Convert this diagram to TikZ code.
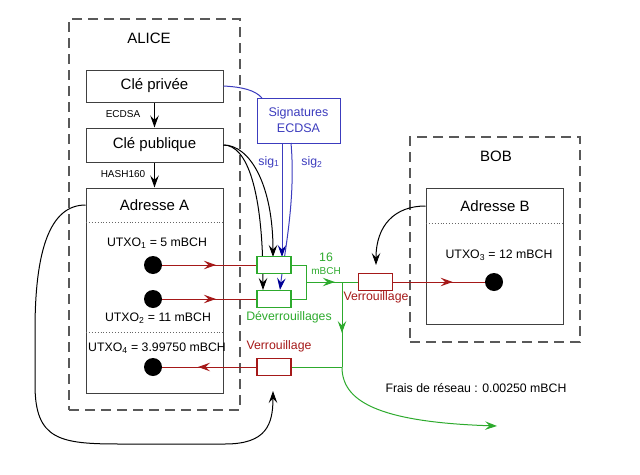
\documentclass[tikz,border=0pt]{standalone}
\usepackage{fontspec}
\setmainfont{Liberation Sans}
\usetikzlibrary{arrows.meta,decorations.markings}
\definecolor{myred}{RGB}{165,25,25}
\definecolor{mygreen}{RGB}{45,170,45}
\definecolor{myblue}{RGB}{60,60,190}
\definecolor{navyblue}{RGB}{0,0,150}
\definecolor{edgegray}{gray}{0.25}
\begin{document}
\begin{tikzpicture}[x=1pt,y=-1pt,
  tipend/.style={-{Stealth[length=12pt,width=8.5pt,inset=4.5pt]}},
  bluetip/.style={-{Stealth[length=12pt,width=8.5pt,inset=4.5pt,color=navyblue]}},
  midarrow/.style={postaction={decorate},decoration={markings,mark=at position #1 with {\arrow{Stealth[length=12pt,width=8.5pt,inset=4.5pt]}}}},
  group/.style={draw=black!65, dash pattern=on 10pt off 6pt, line width=1.2pt, inner sep=0pt},
  box/.style={draw=edgegray, line width=1pt, fill=white, inner sep=0pt, font=\fontsize{15}{18}\selectfont},
  slot/.style={line width=1.1pt, fill=white, minimum width=34pt, minimum height=17pt, inner sep=0pt},
  coin/.style={circle, fill=black, minimum size=18pt, inner sep=0pt},
  lbl/.style={font=\fontsize{12.3}{15}\selectfont, inner sep=0pt},
  big/.style={font=\fontsize{15}{18}\selectfont, inner sep=0pt},
  small/.style={font=\fontsize{10}{12}\selectfont, inner sep=0pt},
  line/.style={line width=1pt}
]
\useasboundingbox (0,0) rectangle (640,474);

% groups
\node[group, minimum width=171pt, minimum height=391pt] (alice) at (154.5,214.5) {};
\node[big] (alicelbl) at (149,38) {ALICE};
\node[group, minimum width=170pt, minimum height=205pt] (bob) at (495,239.5) {};
\node[big] (boblbl) at (496,156) {BOB};

% Alice boxes
\node[box, minimum width=137pt, minimum height=32pt] (priv) at (154.5,86) {Clé privée};
\node[box, minimum width=137pt, minimum height=34pt] (pub) at (154.5,145) {Clé publique};
\node[box, minimum width=137pt, minimum height=205pt] (adrA) at (154.5,290.5) {};
\node[big] (adrAlbl) at (154.5,205) {Adresse A};
\draw[dotted, line width=0.9pt, black!60] (86,222) -- (223,222);
\draw[dotted, line width=0.9pt, black!60] (86,332) -- (223,332);
\node[small] (ecdsa) at (123,114) {ECDSA};
\node[small] (hash) at (123,174) {HASH160};
\draw[line, tipend] (priv) -- (pub);
\draw[line, tipend] (pub) -- (adrA);

\node[lbl] (u1) at (157,243) {UTXO\textsubscript{1} = 5 mBCH};
\node[lbl] (u2) at (158,318) {UTXO\textsubscript{2} = 11 mBCH};
\node[lbl] (u4) at (157,348) {UTXO\textsubscript{4} = 3.99750 mBCH};
\node[coin] (d1) at (153,265) {};
\node[coin] (d2) at (153,299) {};
\node[coin] (d4) at (153,367) {};

% Bob boxes
\node[box, minimum width=137pt, minimum height=136pt] (adrB) at (494.5,256) {};
\node[big] (adrBlbl) at (495,206) {Adresse B};
\draw[dotted, line width=0.9pt, black!60] (426,223) -- (563,223);
\node[lbl] (u3) at (499,255) {UTXO\textsubscript{3} = 12 mBCH};
\node[coin] (d3) at (494,282) {};

% signatures
\node[draw=myblue, line width=1pt, fill=white, minimum width=83pt, minimum height=45pt, align=center, text=myblue, font=\fontsize{12.5}{16}\selectfont, inner sep=0pt] (sig) at (298.5,120.5) {Signatures\\ECDSA};
\draw[myblue, line width=1pt] (priv.east) .. controls (242,87) and (255,90) .. (262,98);
\node[lbl, text=myblue] (s1lbl) at (269,162) {sig\textsubscript{1}};
\node[lbl, text=myblue] (s2lbl) at (312,162) {sig\textsubscript{2}};

% coordinates for connectors
\coordinate (t1) at (273,257);
\coordinate (t2) at (263,290);
\coordinate (b1s) at (282,143);
\coordinate (b1e) at (282,257);
\coordinate (b2s) at (291,143);
\coordinate (b2e) at (280,290);

% black curves from public key
\draw[line, tipend] (pub.east) .. controls (250,145) and (273,185) .. (t1);
\draw[line, tipend] (pub.east) .. controls (247,145) and (263,190) .. (t2);
% blue sig arrows
\draw[myblue, line width=1pt, bluetip] (b1s) -- (b1e);
\draw[myblue, line width=1pt, bluetip] (b2s) .. controls (296,200) and (284,255) .. (b2e);

% slots
\node[slot, draw=mygreen] (un1) at (274,265) {};
\node[slot, draw=mygreen] (un2) at (274,299) {};
\node[slot, draw=myred] (lockA) at (274,367) {};
\node[slot, draw=myred] (lockB) at (375.5,282) {};

\node[lbl, text=mygreen] (devlbl) at (289,317) {Déverrouillages};
\node[lbl, text=myred] (vA) at (279,346) {Verrouillage};
\node[lbl, text=myred] (vB) at (376,297) {Verrouillage};
\node[lbl, text=mygreen] (n16) at (326,257) {16};
\node[small, text=mygreen] (nmbch) at (326,271) {mBCH};
\node[lbl] (fee) at (476,388) {Frais de réseau : 0.00250 mBCH};

% red input arrows
\draw[myred, line, midarrow=0.57] (d1) -- (un1);
\draw[myred, line, midarrow=0.57] (d2) -- (un2);

% green joins
\coordinate (j1) at (306,265);
\coordinate (j2) at (306,299);
\coordinate (jm) at (306,282);
\coordinate (jn) at (342,282);
\coordinate (jd) at (342,367);
\coordinate (feeend) at (497,426);
\draw[mygreen, line] (un1.east) -- (j1) -- (j2) -- (un2.east);
\draw[mygreen, line, midarrow=0.8] (jm) -- (jn);
\draw[mygreen, line] (jn) -- (lockB.west);
\draw[mygreen, line, midarrow=0.6] (jn) -- (jd);
\draw[mygreen, line] (jd) -- (lockA.east);
\draw[mygreen, line, tipend] (jd) .. controls (342,400) and (375,422) .. (feeend);

% red outputs
\draw[myred, line, midarrow=0.65] (lockB.east) -- (d3);
\draw[myred, line, midarrow=0.62] (lockA.west) -- (d4);

% address curves
\coordinate (aend) at (273,391);
\coordinate (bend) at (376,265);
\draw[line, tipend] (adrA.west |- adrAlbl) .. controls (50,205) and (35,250) .. (35,330) -- (35,385) .. controls (35,440) and (60,444) .. (120,444) -- (225,444) .. controls (266,444) and (273,425) .. (aend);
\draw[line, tipend] (adrB.west |- adrBlbl) .. controls (395,206) and (376,225) .. (bend);
\end{tikzpicture}
\end{document}
